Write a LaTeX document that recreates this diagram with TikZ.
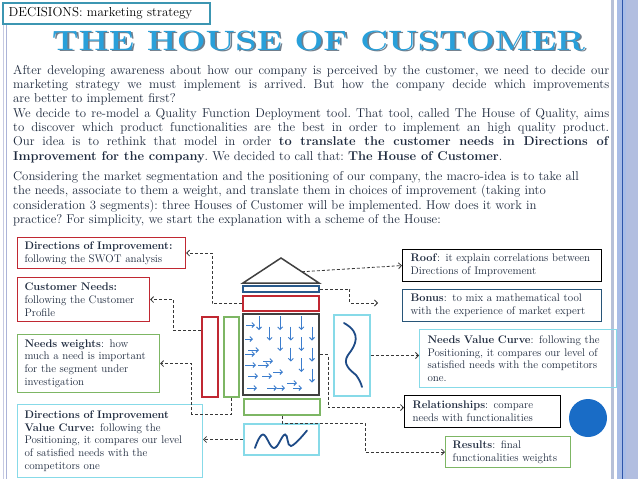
\documentclass[tikz,border=0pt]{standalone}
\usepackage{fontspec}
\usepackage{graphicx}
\usetikzlibrary{arrows.meta,calc}
\definecolor{bodytext}{RGB}{30,42,62}
\definecolor{titleblue}{RGB}{41,160,218}
\definecolor{shadowgrey}{RGB}{112,126,140}
\definecolor{tealbox}{RGB}{60,150,178}
\definecolor{boxred}{RGB}{192,40,50}
\definecolor{boxgreen}{RGB}{125,182,100}
\definecolor{boxcyan}{RGB}{135,218,232}
\definecolor{boxnavy}{RGB}{40,85,120}
\definecolor{housegrey}{RGB}{64,64,64}
\definecolor{barblue}{RGB}{40,90,140}
\definecolor{arrowblue}{RGB}{60,125,205}
\definecolor{wavenavy}{RGB}{30,75,135}
\definecolor{connc}{RGB}{55,55,55}
\definecolor{circleblue}{RGB}{25,108,198}
\definecolor{bandA}{RGB}{182,192,216}
\definecolor{bandB}{RGB}{168,188,230}
\definecolor{bandC}{RGB}{178,190,224}
\definecolor{banddark}{RGB}{45,85,170}
\definecolor{leftA}{RGB}{198,202,226}
\definecolor{leftB}{RGB}{172,180,216}
\newcommand{\jline}[1]{\hbox to\hsize{#1}}
\newcommand{\oneline}[1]{\mbox{#1}}
\newcommand{\titletext}{\resizebox{533pt}{19.5pt}{\fontsize{28}{30}\selectfont\bfseries\addfontfeature{LetterSpace=8,FakeBold=1.2}THE HOUSE OF CUSTOMER}}
\begin{document}
\begin{tikzpicture}[x=1pt,y=-1pt,
  infobox/.style={draw, line width=1.1pt, anchor=north west, inner xsep=7pt, inner ysep=0pt,
    align=left, text=bodytext, font=\fontsize{11}{12.7}\selectfont},
  hpart/.style={line width=1.8pt, inner sep=0pt},
  conn/.style={draw=connc, line width=0.8pt, dash pattern=on 3pt off 2pt,
    -{Straight Barb[length=3pt,width=6pt]}},
  marrow/.style={draw=arrowblue, line width=0.9pt, -{Straight Barb[length=2.5pt,width=5pt]}},
  wave/.style={draw=wavenavy, line width=1.8pt, line cap=round}
]
\useasboundingbox (0,0) rectangle (638,479);
\fill[white] (0,0) rectangle (638,479);

% side decorations
\fill[bandA] (610.5,0) rectangle (614,479);
\fill[bandB] (616.5,0) rectangle (638,479);
\fill[bandC] (626,0) rectangle (638,479);
\draw[banddark, line width=0.9pt] (622,0) -- (622,479);
\draw[leftA, line width=1.2pt] (3.7,23) -- (3.7,479);
\draw[leftB, line width=1.6pt] (6.4,23) -- (6.4,479);

% header box
\node[draw=tealbox, line width=1.5pt, anchor=north west, minimum width=207pt, minimum height=21pt,
  inner xsep=6pt, inner ysep=0pt, text width=195pt, align=left, fill=white,
  font=\fontsize{13}{15}\selectfont] (header) at (2,2) {DECISIONS: marketing strategy};

% title
\node[anchor=base, text=shadowgrey, inner sep=0pt] (titleshadow) at (320.3,51.8) {\titletext};
\node[anchor=base, text=titleblue, inner sep=0pt] (title) at (318.5,50) {\titletext};

% body text
\node[anchor=base west, inner sep=0pt, text=bodytext] (intro) at (13,74) {\fontsize{12.8}{14.4}\selectfont\frenchspacing\vtop{\hsize=596pt
\jline{After developing awareness about how our company is perceived by the customer, we need to decide our}
\jline{marketing strategy we must implement is arrived. But how the company decide which improvements}
\hbox{are better to implement first?}
\jline{We decide to re-model a Quality Function Deployment tool. That tool, called The House of Quality, aims}
\jline{to discover which product functionalities are the best in order to implement an high quality product.}
\jline{Our idea is to rethink that model in order \textbf{to translate the customer needs in Directions of}}
\hbox{\textbf{Improvement for the company}. We decided to call that: \textbf{The House of Customer}.}
\vskip5.6pt
\hbox{Considering the market segmentation and the positioning of our company, the macro-idea is to take all}
\hbox{the needs, associate to them a weight, and translate them in choices of improvement (taking into}
\hbox{consideration 3 segments): three Houses of Customer will be implemented. How does it work in}
\hbox{practice? For simplicity, we start the explanation with a scheme of the House:}
}};

% left info boxes
\node[infobox, draw=boxred, minimum width=168pt, minimum height=31pt, text width=154pt] (box1) at (17,237)
  {\oneline{\textbf{Directions of Improvement:}}\\\oneline{following the SWOT analysis}};
\node[infobox, draw=boxred, minimum width=132pt, minimum height=44pt, text width=118pt] (box2) at (17,277)
  {\oneline{\textbf{Customer Needs:}}\\\oneline{following the Customer}\\\oneline{Profile}};
\node[infobox, draw=boxgreen, minimum width=142pt, minimum height=58pt, text width=128pt] (box3) at (17,334)
  {\oneline{\textbf{Needs weights}: how}\\\oneline{much a need is important}\\\oneline{for the segment under}\\\oneline{investigation}};
\node[infobox, draw=boxcyan, minimum width=185pt, minimum height=73pt, text width=171pt] (box4) at (17,404)
  {\oneline{\textbf{Directions of Improvement}}\\\oneline{\textbf{Value Curve:} following the}\\\oneline{Positioning, it compares our level}\\\oneline{of satisfied needs with the}\\\oneline{competitors one}};

% right info boxes
\node[infobox, draw=black, inner xsep=8pt, minimum width=199pt, minimum height=32pt, text width=183pt] (roofbox) at (402,249)
  {\oneline{\textbf{Roof}: it explain correlations between}\\\oneline{Directions of Improvement}};
\node[infobox, draw=boxnavy, inner xsep=8pt, minimum width=199pt, minimum height=32pt, text width=183pt] (bonusbox) at (402,289)
  {\oneline{\textbf{Bonus}: to mix a mathematical tool}\\\oneline{with the experience of market expert}};
\node[infobox, draw=boxcyan, inner xsep=8pt, minimum width=197pt, minimum height=58pt, text width=181pt] (nvc) at (419,329)
  {\oneline{\textbf{Needs Value Curve}: following the}\\\oneline{Positioning, it compares our level of}\\\oneline{satisfied needs with the competitors}\\\oneline{one.}};
\node[infobox, draw=black, inner xsep=8pt, minimum width=156pt, minimum height=32pt, text width=140pt] (rel) at (404,395)
  {\oneline{\textbf{Relationships}: compare}\\\oneline{needs with functionalities}};
\node[infobox, draw=boxgreen, minimum width=125pt, minimum height=31pt, text width=111pt] (res) at (445,436)
  {\oneline{\textbf{Results}: final}\\\oneline{functionalities weights}};

% circle
\fill[circleblue] (588,418) circle[radius=19pt];

% the house
\coordinate (roofL) at (243,283);
\coordinate (roofT) at (281,258);
\coordinate (roofR) at (319,283);
\draw[housegrey, line width=1.5pt, line join=miter] (roofL) -- (roofT) -- (roofR) -- cycle;
\coordinate (roofmid) at ($(roofT)!0.55!(roofR)$);
\node[hpart, draw=barblue, line width=1.6pt, minimum width=76pt, minimum height=6pt] (bluebar) at (281,289) {};
\node[hpart, draw=boxred, minimum width=76pt, minimum height=15pt] (redbar) at (281,303.5) {};
\node[hpart, draw=housegrey, line width=2.2pt, minimum width=76pt, minimum height=81pt] (mtx) at (281,354.5) {};
\node[hpart, draw=boxgreen, minimum width=76pt, minimum height=16pt] (greenbar) at (282,407) {};
\node[hpart, draw=boxcyan, minimum width=75pt, minimum height=31pt] (wavebox) at (281.5,439.5) {};
\node[hpart, draw=boxred, minimum width=16pt, minimum height=80pt] (redcol) at (210,357) {};
\node[hpart, draw=boxgreen, minimum width=15pt, minimum height=80pt] (greencol) at (231.5,357) {};
\node[hpart, draw=boxcyan, minimum width=36pt, minimum height=81pt] (curvebox) at (352,355.5) {};

% matrix arrows
\foreach \cc/\rr in {0/0,1/1,2/0,2/2,3/1,3/3,4/0,4/2,4/4,5/1,5/3,5/5}
  \draw[marrow] ({259+10.6*\cc},{316+10.5*\rr}) -- ++(0,14);
\foreach \xx/\yy/\ll in {246/325/9,245/339/8,248/350/11,245/354/10,245/365/11,258/365/11,263/361/10,
  248/376/10,262/376/10,273/372/10,247/388/10,267/388/10,277/388/8,287/383/10,293/388/9}
  \draw[marrow] (\xx,\yy) -- ++(\ll,0);

% curves
\draw[wave] (344,323) .. controls (362,333) and (356,345) .. (348,355)
  .. controls (342,364) and (350,370) .. (356,375) .. controls (359,379) and (361,383) .. (362,387);
\draw[wave] plot[smooth, tension=0.7] coordinates {(255,448) (263,434.5) (274,448) (285,434.5) (291,446) (307,430.5)};

% connectors
\draw[conn] (redbar.west) -- ++(-30,0) |- (box1.east);
\draw[conn] (redcol.north west) ++(0,14) -- ++(-28,0) |- (box2.east);
\draw[conn] (greencol.south) -- ++(0,16) -- ++(-40.5,0) |- (box3.east);
\draw[conn] (wavebox.west) -- (wavebox.west -| box4.east);
\draw[conn] (roofmid) -- (roofbox.west);
\coordinate (bonusend) at (378,303);
\draw[conn] (bluebar.east) -- ++(30,0) |- (bonusend);
\draw[conn] (curvebox.east) -- (curvebox.east -| nvc.west);
\draw[conn] (mtx.east) -- ++(8,0) |- ([yshift=4pt]rel.west);
\draw[conn] (greenbar.south) -- ++(0,7) -- ++(83,0) |- (res.west);
\end{tikzpicture}
\end{document}
